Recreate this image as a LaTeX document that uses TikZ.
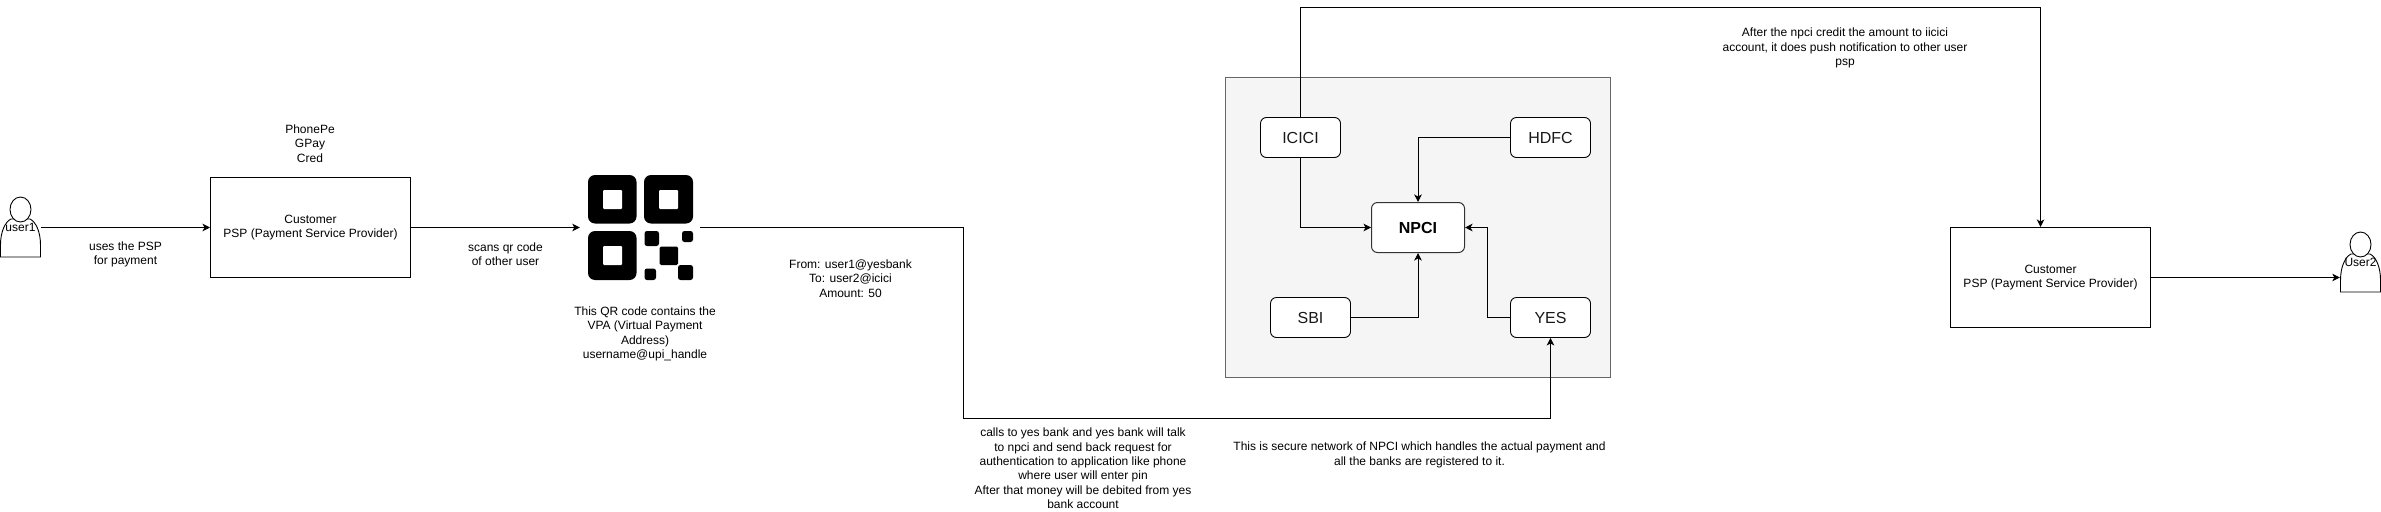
\documentclass[tikz,border=0pt]{standalone}
\usepackage{fontspec}
\setmainfont{Liberation Sans}
\usetikzlibrary{arrows.meta}
\tikzset{
  conn/.style={draw=black,line width=1pt,-{Stealth[length=7.5pt,width=7.5pt,inset=2pt]}},
  label/.style={inner sep=0pt,align=center,text=black,font=\fontsize{12}{14.4}\selectfont},
  pspbox/.style={draw=black,fill=white,line width=1pt,minimum width=200pt,minimum height=100pt,inner sep=0pt,align=center,text=black,font=\fontsize{12}{14.4}\selectfont},
  bank/.style={draw=black,fill=white,line width=0.9pt,rounded corners=6pt,minimum width=80pt,minimum height=40pt,inner sep=0pt,text=black!90,font=\fontsize{16}{19}\selectfont},
  npcibox/.style={draw=black!80,fill=white,line width=1pt,rounded corners=6pt,minimum width=93pt,minimum height=50pt,inner sep=0pt,font=\fontsize{16}{19}\selectfont\bfseries},
  netbox/.style={draw=black!60,fill=black!4,line width=1pt,minimum width=385pt,minimum height=299.5pt,inner sep=0pt},
  actorlabel/.style={minimum width=41pt,minimum height=60pt,inner sep=0pt,text=black,font=\fontsize{12}{14.4}\selectfont},
  qrholder/.style={minimum width=120pt,minimum height=120pt,inner sep=0pt},
  qrdark/.style={fill=black,rounded corners=#1},
  qrhole/.style={fill=white,rounded corners=1pt},
  actorline/.style={draw=black,line width=0.9pt,fill=white}
}
\begin{document}
\begin{tikzpicture}[x=1pt,y=-1pt]
\useasboundingbox (0,0) rectangle (2381,511);
% network container
\node[netbox] (net) at (1418,227.25) {};
% actors
\draw[actorline] (0.5,257) -- (0.5,245) .. controls (0.5,232) and (5,222) .. (11,219) -- (30,219) .. controls (36,222) and (40.5,232) .. (40.5,245) -- (40.5,257) -- cycle;
\draw[actorline] (20.5,209.5) ellipse [x radius=10.5,y radius=12.5];
\node[actorlabel] (user1) at (20.5,227.5) {user1};
\draw[actorline] (2340.5,292) -- (2340.5,280) .. controls (2340.5,267) and (2345,257) .. (2351,254) -- (2370,254) .. controls (2376,257) and (2380.5,267) .. (2380.5,280) -- (2380.5,292) -- cycle;
\draw[actorline] (2360.5,244.5) ellipse [x radius=10.5,y radius=12.5];
\node[actorlabel] (user2) at (2360.5,262.5) {User2};
% boxes
\node[pspbox] (psp1) at (310.5,227.5) {\raisebox{-1pt}{Customer}\\PSP (Payment Service Provider)};
\node[pspbox] (psp2) at (2050.5,277.5) {\raisebox{-1pt}{Customer}\\PSP (Payment Service Provider)};
\node[bank] (icici) at (1300.5,137.5) {ICICI};
\node[bank] (hdfc) at (1550.5,137.5) {HDFC};
\node[bank] (sbi) at (1310.5,317.5) {SBI};
\node[bank] (yes) at (1550.5,317.5) {YES};
\node[npcibox] (npci) at (1418,227.5) {NPCI};
% QR code
\node[qrholder] (qr) at (640,227.5) {};
\fill[qrdark=7pt] (588,175) rectangle (636.5,223.5);
\fill[qrdark=7pt] (644,175) rectangle (693,223.5);
\fill[qrdark=7pt] (588,231) rectangle (636.5,280);
\fill[qrhole] (603,190) rectangle (622,209);
\fill[qrhole] (659,190) rectangle (678,209);
\fill[qrhole] (603,246) rectangle (622,265);
\fill[qrdark=2.5pt] (644.5,231) rectangle (659,246);
\fill[qrdark=2.5pt] (682,231) rectangle (693,242);
\fill[qrdark=1.5pt] (659.5,246.5) rectangle (678,265);
\fill[qrdark=2.5pt] (644.5,268.5) rectangle (656,280);
\fill[qrdark=2.5pt] (678,265) rectangle (693,280);
% connector way points
\coordinate (bendA) at (963,418);
\coordinate (topA) at (1300.5,7.5);
\coordinate (pspTop) at ([xshift=-10pt]psp2.north);
% connectors
\draw[conn] (user1.east) -- (psp1.west);
\draw[conn] (psp1.east) -- (qr.west);
\draw[conn] (qr.east) -| (bendA) -| (yes.south);
\draw[conn] (icici.south) |- (npci.west);
\draw[conn] (hdfc.west) -| (npci.north);
\draw[conn] (sbi.east) -| (npci.south);
\draw[conn] (yes.west) -- ++(-23,0) |- (npci.east);
\draw[conn] (icici.north) -- (topA) -| (pspTop);
\draw[conn] (psp2.east) -- (psp2.east -| user2.west);
% texts
\node[label] (t1) at (310,143.5) {PhonePe\\GPay\\Cred};
\node[label] (t2) at (125.5,254.5) {uses the PSP\\for payment};
\node[label] (t3) at (505.5,254) {scans qr code\\of other user};
\node[label] (t4) at (645,334) {This QR code contains the\\VPA (Virtual Payment\\Address)\\username@upi\_handle};
\node[label] (t5) at (850.5,278.5) {From: user1@yesbank\\To: user2@icici\\Amount: 50};
\node[label] (t6) at (1083,468.5) {calls to yes bank and yes bank will talk\\to npci and send back request for\\authentication to application like phone\\where user will enter pin\\After that money will be debited from yes\\bank account};
\node[label] (t7) at (1419.5,455) {This is secure network of NPCI which handles the actual payment and\\all the banks are registered to it.};
\node[label] (t8) at (1845,48) {After the npci credit the amount to iicici\\account, it does push notification to other user\\psp};
\end{tikzpicture}
\end{document}
